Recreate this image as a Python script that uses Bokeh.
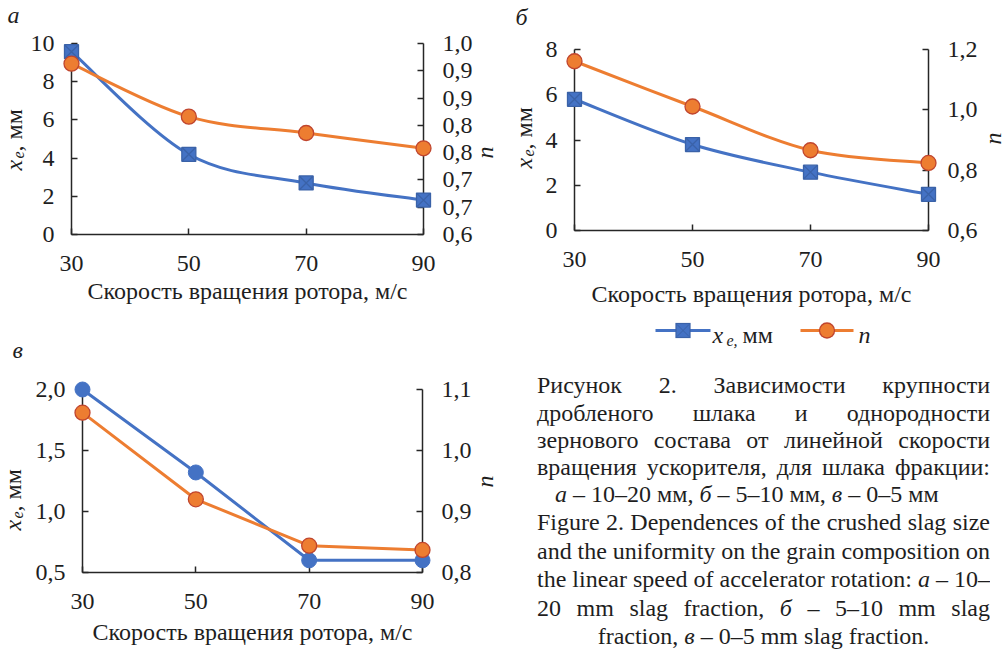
from math import pi
from bokeh.plotting import figure
from bokeh.models import Range1d, LinearAxis, FixedTicker, Div, ColumnDataSource
from bokeh.core.properties import value
from bokeh.layouts import row, column
from bokeh.embed import file_html
from bokeh.resources import INLINE

FONT = "Liberation Serif, Times New Roman, Tinos, DejaVu Serif, serif"
BLUE = "#4472C4"
BLUE_EDGE = "#3A62A8"
ORANGE = "#ED7D31"
ORANGE_EDGE = "#C0452E"
AXIS = "#262626"
TXT = "#1e1e1e"
TEXT_SHIFT = 8  # measured drift of text glyphs along their "down" direction

# ---------------- data ----------------
speed = [30, 50, 70, 90]
x_ticks = [30, 50, 70, 90]

xe_a = [9.57, 4.2, 2.7, 1.8]
n_a = [0.913, 0.816, 0.786, 0.758]
xe_b = [5.8, 3.8, 2.58, 1.6]
n_b = [1.161, 1.011, 0.866, 0.824]
xe_c = [2.0, 1.32, 0.6, 0.6]
n_c = [1.062, 0.920, 0.844, 0.837]

a_left_ticks = [0, 2, 4, 6, 8, 10]
a_left_labels = ["0", "2", "4", "6", "8", "10"]
a_right_ticks = [0.6, 0.65, 0.7, 0.75, 0.8, 0.85, 0.9, 0.95]
a_right_labels = ["0,6", "0,7", "0,7", "0,8", "0,8", "0,9", "0,9", "1,0"]
b_left_ticks = [0, 2, 4, 6, 8]
b_left_labels = ["0", "2", "4", "6", "8"]
b_right_ticks = [0.6, 0.8, 1.0, 1.2]
b_right_labels = ["0,6", "0,8", "1,0", "1,2"]
c_left_ticks = [0.5, 1.0, 1.5, 2.0]
c_left_labels = ["0,5", "1,0", "1,5", "2,0"]
c_right_ticks = [0.8, 0.9, 1.0, 1.1]
c_right_labels = ["0,8", "0,9", "1,0", "1,1"]

x_title = "Скорость вращения ротора, м/с"

cap_ru = ["Рисунок 2. Зависимости крупности",
          "дробленого шлака и однородности",
          "зернового состава от линейной скорости",
          "вращения ускорителя, для шлака фракции:"]
cap_ru_last = "<i>а</i> – 10–20 мм, <i>б</i> – 5–10 мм, <i>в</i> – 0–5 мм"
cap_en = ["Figure 2. Dependences of the crushed slag size",
          "and the uniformity on the grain composition on",
          "the linear speed of accelerator rotation: <i>а</i> – 10–",
          "20 mm slag fraction, <i>б</i> – 5–10 mm slag"]
cap_en_last = "fraction, <i>в</i> – 0–5 mm slag fraction."

TICK_FS = "24px"
TITLE_FS = "24px"


def bezier_source(xs, ys):
    d = dict(x0=[], y0=[], x1=[], y1=[], cx0=[], cy0=[], cx1=[], cy1=[])
    n = len(xs)
    for i in range(n - 1):
        xp, yp = (xs[i - 1], ys[i - 1]) if i > 0 else (xs[i], ys[i])
        xn, yn = (xs[i + 2], ys[i + 2]) if i + 2 < n else (xs[i + 1], ys[i + 1])
        d["x0"].append(xs[i]); d["y0"].append(ys[i])
        d["x1"].append(xs[i + 1]); d["y1"].append(ys[i + 1])
        d["cx0"].append(xs[i] + (xs[i + 1] - xp) / 6)
        d["cy0"].append(ys[i] + (ys[i + 1] - yp) / 6)
        d["cx1"].append(xs[i + 1] - (xn - xs[i]) / 6)
        d["cy1"].append(ys[i + 1] - (yn - ys[i]) / 6)
    return ColumnDataSource(d)


def style_axis(ax, ticks, labels, standoff):
    ax.ticker = FixedTicker(ticks=ticks)
    ax.major_label_overrides = {t: l for t, l in zip(ticks, labels)}
    ax.axis_line_color = AXIS
    ax.axis_line_width = 1.5
    ax.major_tick_line_color = AXIS
    ax.major_tick_line_width = 1.5
    ax.major_tick_in = 6
    ax.major_tick_out = 0
    ax.minor_tick_in = 0
    ax.minor_tick_out = 0
    ax.major_label_text_font = FONT
    ax.major_label_text_font_size = TICK_FS
    ax.major_label_text_color = TXT
    ax.major_label_standoff = standoff


class Panel:
    def __init__(self, W, H, L, R, T, B, yr, nr, lt, ll, rt, rl, title_standoff):
        self.W, self.H, self.L, self.R, self.T, self.B = W, H, L, R, T, B
        self.FW = W - L - R
        self.FH = H - T - B
        self.yr = yr
        p = figure(width=W, height=H, x_range=Range1d(30, 90), y_range=Range1d(*yr),
                   output_backend="svg", toolbar_location=None, frame_align=False,
                   min_border_left=L, min_border_right=R,
                   min_border_top=T, min_border_bottom=B,
                   outline_line_color=None, background_fill_color="white",
                   border_fill_color="white")
        p.extra_y_ranges = {"n": Range1d(*nr)}
        p.grid.visible = False
        right = LinearAxis(y_range_name="n")
        p.add_layout(right, "right")
        style_axis(p.below[0], x_ticks, [str(t) for t in x_ticks], 21)
        style_axis(p.left[0], lt, ll, 17)
        style_axis(right, rt, rl, 19)
        xa = p.below[0]
        xa.axis_label = x_title
        xa.axis_label_text_font = FONT
        xa.axis_label_text_font_size = TITLE_FS
        xa.axis_label_text_font_style = "normal"
        xa.axis_label_text_color = TXT
        xa.axis_label_standoff = title_standoff
        self.p = p

    def px(self, cx, cy):
        # canvas pixel -> data coordinates of the panel's default scales
        x = 30 + (cx - self.L) * 60.0 / self.FW
        y = self.yr[0] + (self.T + self.FH - cy) * (self.yr[1] - self.yr[0]) / self.FH
        return x, y

    def text(self, cx, cy, s, size=24, italic=False, angle=0.0):
        if angle:
            cx -= TEXT_SHIFT
        else:
            cy -= TEXT_SHIFT
        x, y = self.px(cx, cy)
        self.p.text(x=[x], y=[y], text=[s], angle=angle, level="overlay",
                    text_font=value(FONT), text_font_size=value(f"{size}px"),
                    text_font_style=value("italic" if italic else "normal"),
                    text_color=TXT, text_align=value("left"),
                    text_baseline=value("alphabetic"))

    def y_title(self, bx, by):
        # rotated "x_e, мм": bx = baseline x, by = canvas y where text starts (bottom)
        self.text(bx, by, "x", 24, True, pi / 2)
        self.text(bx + 5, by - 12, "e", 16, True, pi / 2)
        self.text(bx, by - 19, ", мм", 24, False, pi / 2)

    def n_title(self, bx, by):
        self.text(bx, by, "n", 24, True, pi / 2)

    def seg(self, cx0, cy0, cx1, cy1, color, width, cap="butt"):
        x0, y0 = self.px(cx0, cy0)
        x1, y1 = self.px(cx1, cy1)
        self.p.segment(x0=[x0], y0=[y0], x1=[x1], y1=[y1], line_color=color,
                       line_width=width, line_cap=cap, level="overlay")

    def legend_key(self, cx0, cx1, cy, color, marker, edge, size):
        self.seg(cx0, cy, cx1, cy, color, 3)
        xm = (cx0 + cx1) / 2
        h = size / 2
        if marker == "square":
            self.seg(xm - h - 0.6, cy, xm + h + 0.6, cy, edge, size + 1.2)
            self.seg(xm - h + 0.6, cy, xm + h - 0.6, cy, color, size - 1.2)
            self.seg(xm - h + 1, cy - h + 1, xm + h - 1, cy + h - 1, edge, 1)
            self.seg(xm - h + 1, cy + h - 1, xm + h - 1, cy - h + 1, edge, 1)
        else:
            self.seg(xm - 0.01, cy, xm + 0.01, cy, edge, size + 1.3, "round")
            self.seg(xm - 0.01, cy, xm + 0.01, cy, color, size - 1.3, "round")


def smooth_series(pn, xs, ys, color, marker, fill, edge, size, rng=None):
    kw = {"y_range_name": rng} if rng else {}
    pn.p.bezier(x0="x0", y0="y0", x1="x1", y1="y1", cx0="cx0", cy0="cy0",
                cx1="cx1", cy1="cy1", source=bezier_source(xs, ys),
                line_color=color, line_width=3, level="overlay", **kw)
    pn.p.scatter(xs, ys, marker=marker, size=size, fill_color=fill,
                 line_color=edge, line_width=1.3, level="overlay", **kw)


# ---------------- panel а ----------------
A = Panel(508, 330, 71, 85, 43, 96, (0, 10), (0.6, 0.95),
          a_left_ticks, a_left_labels, a_right_ticks, a_right_labels, 4)
smooth_series(A, speed, xe_a, BLUE, "square_x", BLUE, BLUE_EDGE, 14)
smooth_series(A, speed, n_a, ORANGE, "circle", ORANGE, ORANGE_EDGE, 15, "n")
A.text(7, 22, "а", 24, True)
A.y_title(21, 170)
A.n_title(492, 158)

# ---------------- panel б ----------------
Bp = Panel(496, 353, 66, 76, 49, 123, (0, 8), (0.6, 1.2),
           b_left_ticks, b_left_labels, b_right_ticks, b_right_labels, 11)
smooth_series(Bp, speed, xe_b, BLUE, "square_x", BLUE, BLUE_EDGE, 14)
smooth_series(Bp, speed, n_b, ORANGE, "circle", ORANGE, ORANGE_EDGE, 15, "n")
Bp.text(7, 24, "б", 24, True)
Bp.y_title(23, 168)
Bp.n_title(492, 144)
# legend
Bp.legend_key(147, 202, 330, BLUE, "square", BLUE_EDGE, 14)
Bp.legend_key(292, 345, 330, ORANGE, "circle", ORANGE_EDGE, 15)
Bp.text(204, 342, "x", 24, True)
Bp.text(218, 348, "e,", 16, True)
Bp.text(234, 342, "мм", 24, False)
Bp.text(350, 342, "n", 24, True)

# ---------------- panel в ----------------
C = Panel(508, 320, 82, 86, 59, 78, (0.5, 2.0), (0.8, 1.1),
          c_left_ticks, c_left_labels, c_right_ticks, c_right_labels, 7)
C.p.line(speed, xe_c, line_color=BLUE, line_width=3, level="overlay")
C.p.scatter(speed, xe_c, marker="circle", size=15, fill_color=BLUE, line_color=BLUE,
            level="overlay")
C.p.line(speed, n_c, line_color=ORANGE, line_width=3, level="overlay", y_range_name="n")
C.p.scatter(speed, n_c, marker="circle", size=15, fill_color=ORANGE,
            line_color=ORANGE_EDGE, line_width=1.3, level="overlay", y_range_name="n")
C.text(12, 27, "в", 24, True)
C.y_title(20, 200)
C.n_title(492, 157)

# ---------------- caption ----------------
def just_line(text, lh):
    spans = "".join(f"<span>{w}</span>" for w in text.split(" "))
    return (f'<div style="display:flex;justify-content:space-between;column-gap:2px;'
            f'white-space:nowrap;height:{lh}px;line-height:{lh}px;">{spans}</div>')

RU_LH = 27.2
EN_LH = 28.4
html = ['<div style="height:297px;overflow:hidden;box-sizing:border-box;'
        'padding:19.4px 0 0 29px;width:482px;'
        'font-family:\'Liberation Serif\',\'Times New Roman\',Tinos,\'DejaVu Serif\',serif;'
        f'font-size:24px;color:{TXT};">']
for ln in cap_ru:
    html.append(just_line(ln, RU_LH))
html.append(f'<div style="height:{RU_LH}px;line-height:{RU_LH}px;padding-left:18px;'
            f'white-space:nowrap;">{cap_ru_last}</div>')
for ln in cap_en:
    html.append(just_line(ln, EN_LH))
html.append(f'<div style="height:{EN_LH}px;line-height:{EN_LH}px;text-align:center;'
            f'white-space:nowrap;">{cap_en_last}</div>')
html.append('</div>')
caption = Div(text="".join(html), width=496, height=297, margin=(0, 0, 0, 0),
              styles={"overflow": "hidden"})

layout = row(column(A.p, C.p), column(Bp.p, caption))
open("out.html", "w").write(file_html(layout, INLINE))
